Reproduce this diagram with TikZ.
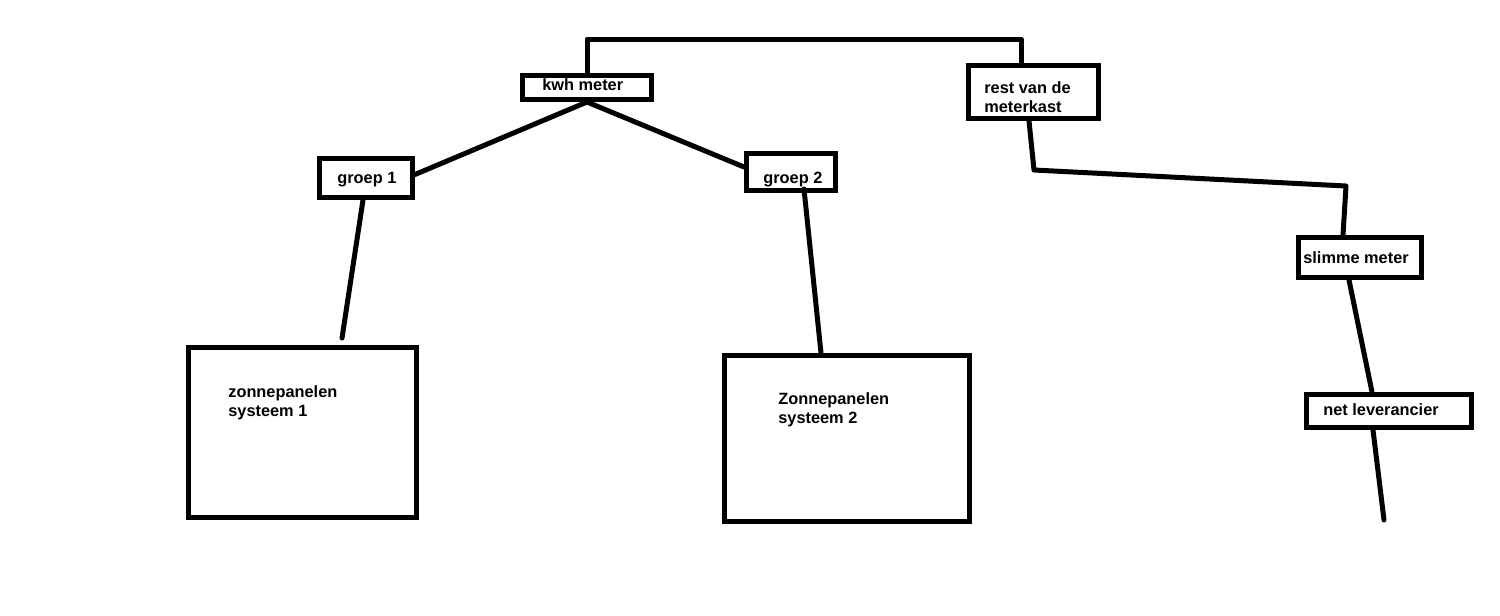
\documentclass[tikz,border=0pt]{standalone}
\usepackage{fontspec}
\setmainfont{Liberation Sans}
\usetikzlibrary{positioning,calc}
\tikzset{
  box/.style={draw, line width=1mm, inner sep=0pt},
  lbl/.style={inner sep=0pt, align=left, font=\bfseries\fontsize{9.3}{10.8}\selectfont},
  wire/.style={line width=1mm, line cap=round, line join=round},
}

\begin{document}
\begin{tikzpicture}[x=0.2mm, y=-0.2mm]
  \fill[white] (0,0) rectangle (1500,615);
  \useasboundingbox (0,0) rectangle (1500,615);

  % kasten
  \node[box, minimum width=25.8mm, minimum height=4.8mm] (kwh) at (587,87.5) {};
  \node[box, minimum width=26mm, minimum height=10.6mm] (rest) at (1033.5,92) {};
  \node[box, minimum width=18.6mm, minimum height=7.8mm] (groep1) at (366,178) {};
  \node[box, minimum width=17.8mm, minimum height=7.4mm] (groep2) at (791,172) {};
  \node[box, minimum width=24.6mm, minimum height=8mm] (slimme) at (1360,257.5) {};
  \node[box, minimum width=33mm, minimum height=6.6mm] (net) at (1389,411) {};
  \node[box, minimum width=45.6mm, minimum height=34mm] (zon1) at (302.5,432.5) {};
  \node[box, minimum width=49mm, minimum height=33.2mm] (zon2) at (847,438.5) {};

  % teksten
  \node[lbl, anchor=base west] (kwhtxt) at (542,90) {kwh meter};
  \node[lbl, anchor=north west] (resttxt) at (984,81) {rest van de\\meterkast};
  \node[lbl, anchor=base west] (groep1txt) at (337,183) {groep 1};
  \node[lbl, anchor=base west] (groep2txt) at (763,183) {groep 2};
  \node[lbl, anchor=base west] (slimmetxt) at (1303,263) {slimme meter};
  \node[lbl, anchor=base west] (nettxt) at (1323,415) {net leverancier};
  \node[lbl, anchor=north west] (zon1txt) at (228,385) {zonnepanelen\\systeem 1};
  \node[lbl, anchor=north west] (zon2txt) at (778,392) {Zonnepanelen\\systeem 2};

  % verbindingen
  \coordinate (bus) at (0,39);
  \coordinate (k1) at (1034,170);
  \coordinate (k2) at (1346,186);
  \coordinate (grid) at (1384,520);
  \draw[wire] (kwh.north) -- (kwh.north |- bus) -- ([xshift=-2.5mm]rest.north |- bus) -- ([xshift=-2.5mm]rest.north);
  \draw[wire] (kwh.south) -- ([yshift=0.7mm]groep1.east);
  \draw[wire] (kwh.south) -- ([yshift=1mm]groep2.west);
  \draw[wire] ([xshift=-0.6mm]groep1.south) -- ([xshift=7.9mm, yshift=1.4mm]zon1.north);
  \draw[wire] ([xshift=2.6mm, yshift=0.8mm]groep2.south) -- ([xshift=-5.2mm]zon2.north);
  \draw[wire] ([xshift=-0.9mm]rest.south) -- (k1) -- (k2) -- ([xshift=-3.4mm]slimme.north);
  \draw[wire] ([xshift=-2.2mm]slimme.south) -- ([xshift=-3.4mm]net.north);
  \draw[wire] ([xshift=-3.2mm]net.south) -- (grid);
\end{tikzpicture}
\end{document}
